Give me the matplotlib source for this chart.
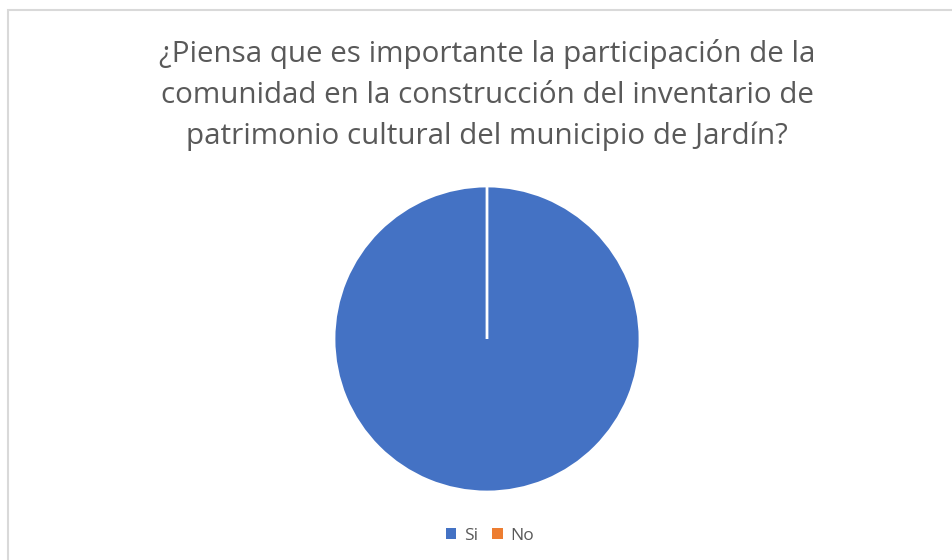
import matplotlib
matplotlib.use("Agg")
import matplotlib.pyplot as plt
from matplotlib.patches import Rectangle, Patch

title = "¿Piensa que es importante la participación de la\ncomunidad en la construcción del inventario de\npatrimonio cultural del municipio de Jardín?"
categories = ["Si", "No"]
values = [100, 0]
colors = ["#4472C4", "#ED7D31"]

W, H = 952, 560
fig = plt.figure(figsize=(W / 100, H / 100), dpi=100)
fig.patch.set_facecolor("white")

# chart border
fig.patches.append(Rectangle((7.5 / W, -0.05), 1.2, (H - 9.5) / H + 0.05,
                             transform=fig.transFigure, fill=False,
                             edgecolor="#D9D9D9", linewidth=1.5))

cx, cy, r = 487, 339, 153
ax = fig.add_axes([(cx - r) / W, (H - cy - r) / H, 2 * r / W, 2 * r / H])
wedges, _ = ax.pie(values, colors=colors, startangle=90, counterclock=False,
                   radius=1, wedgeprops=dict(edgecolor="white", linewidth=2))
ax.set_xlim(-1, 1)
ax.set_ylim(-1, 1)
ax.set_aspect("equal")
ax.axis("off")

fig.text(487 / W, 1 - 95 / H, title, ha="center", va="center",
         fontsize=21.3, color="#595959", family="Open Sans", linespacing=1.52)

handles = [Patch(facecolor=c, edgecolor="none") for c in colors]
fig.legend(handles, categories, loc="center", bbox_to_anchor=(490 / W, 1 - 536 / H),
           ncol=2, frameon=False, handlelength=0.6, handleheight=0.6,
           handletextpad=0.45, columnspacing=0.8,
           prop={"family": "Open Sans", "size": 12.5}, labelcolor="#595959")

fig.savefig("out.png", dpi=100)
